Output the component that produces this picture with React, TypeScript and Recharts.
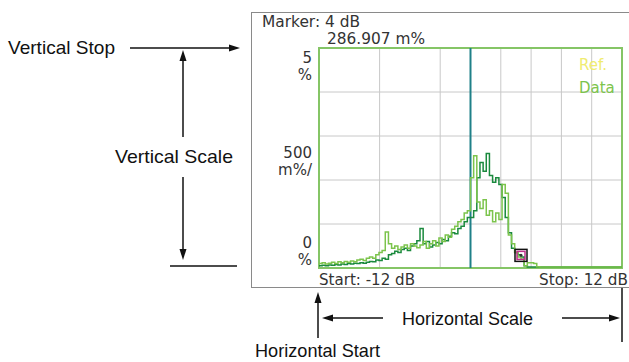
import { ComposedChart, Line, XAxis, YAxis, CartesianGrid, ReferenceLine, ReferenceArea, ReferenceDot } from 'recharts';

const dbSteps = [
    -12, -11.75, -11.5, -11.25, -11, -10.75, -10.5, -10.25, -10, -9.75, -9.5, -9.25,
    -9, -8.75, -8.5, -8.25, -8, -7.75, -7.5, -7.25, -7, -6.75, -6.5, -6.25,
    -6, -5.75, -5.5, -5.25, -5, -4.75, -4.5, -4.25, -4, -3.75, -3.5, -3.25,
    -3, -2.75, -2.5, -2.25, -2, -1.75, -1.5, -1.25, -1, -0.75, -0.5, -0.25,
    0, 0.25, 0.5, 0.75, 1, 1.25, 1.5, 1.75, 2, 2.25, 2.5, 2.75,
    3, 3.25, 3.5, 3.75, 4, 4.25, 4.5, 4.75, 5, 5.25, 5.5, 5.75,
    6, 6.25, 6.5, 6.75, 7, 7.25, 7.5, 7.75, 8, 8.25, 8.5, 8.75,
    9, 9.25, 9.5, 9.75, 10, 10.25, 10.5, 10.75, 11, 11.25, 11.5, 11.75, 12,
];

// dark green trace (%)
const darkTrace = [
    0.05, 0.06, 0.05, 0.07, 0.06, 0.08, 0.07, 0.09, 0.08, 0.1, 0.09, 0.11,
    0.1, 0.12, 0.11, 0.13, 0.15, 0.14, 0.18, 0.17, 0.22, 0.2, 0.3, 0.33,
    0.38, 0.35, 0.42, 0.45, 0.4, 0.5, 0.55, 0.62, 0.9, 0.55, 0.6, 0.48,
    0.52, 0.58, 0.55, 0.65, 0.62, 0.72, 0.8, 0.78, 0.9, 0.95, 1.05, 1.15,
    1.15, 1.3, 2.05, 2.4, 2.2, 2.6, 2.1, 1.95, 2.05, 1.9, 1.6, 1.15,
    0.8, 0.45, 0.35, 0.3, 0.25, 0.05, 0.02, 0.02, 0.02, 0.02, 0.02, 0.02,
    0.02, 0.02, 0.02, 0.02, 0.02, 0.02, 0.02, 0.02, 0.02, 0.02, 0.02, 0.02,
    0.02, 0.02, 0.02, 0.02, 0.02, 0.02, 0.02, 0.02, 0.02, 0.02, 0.02, 0.02, 0.02,
];

// light green trace (%)
const lightTrace = [
    0.1, 0.12, 0.09, 0.11, 0.13, 0.1, 0.14, 0.12, 0.15, 0.13, 0.16, 0.14,
    0.18, 0.2, 0.17, 0.22, 0.25, 0.22, 0.3, 0.35, 0.4, 0.82, 0.55, 0.45,
    0.5, 0.42, 0.48, 0.52, 0.45, 0.55, 0.5, 0.46, 0.52, 0.6, 0.45, 0.55,
    0.62, 0.5, 0.68, 0.6, 0.75, 0.7, 0.88, 0.95, 1.05, 1.1, 1.25, 1.3,
    2.05, 2.55, 1.5, 1.35, 1.55, 1.2, 1.3, 1.05, 1.25, 1.1, 1.9, 1.7,
    0.75, 0.55, 0.35, 0.25, 0.2, 0.05, 0.12, 0.12, 0.1, 0.03, 0.02, 0.02,
    0.02, 0.02, 0.02, 0.02, 0.02, 0.02, 0.02, 0.02, 0.02, 0.02, 0.02, 0.02,
    0.02, 0.02, 0.02, 0.02, 0.02, 0.02, 0.02, 0.02, 0.02, 0.02, 0.02, 0.02, 0.02,
];

const xTicks = [-12, -9.6, -7.2, -4.8, -2.4, 0, 2.4, 4.8, 7.2, 9.6, 12];
const yTicks = [0, 0.5, 1, 1.5, 2, 2.5, 3, 3.5, 4, 4.5, 5];

const markerDb = 4;
const markerValue = 0.287;
const refLineDb = 0;

const data = dbSteps.map((db, i) => ({ db, dark: darkTrace[i], light: lightTrace[i] }));

const instFont = '"DejaVu Sans", Verdana, sans-serif';
const noteFont = '"Liberation Sans Narrow", "Arial Narrow", "Liberation Sans", Arial, sans-serif';

const MarkerBox = (props: any) => {
    const { cx, cy } = props;
    return (
        <g>
            <rect x={cx - 6} y={cy - 6} width={12} height={12} fill="none" stroke="#111" strokeWidth={1.5} />
            <rect x={cx - 4} y={cy - 4} width={8} height={8} fill="none" stroke="#c0308a" strokeWidth={1.5} />
            <circle cx={cx} cy={cy} r={1.5} fill="#333" />
        </g>
    );
};

const Arrow = ({ x1, y1, x2, y2 }: { x1: number; y1: number; x2: number; y2: number }) => {
    const a = Math.atan2(y2 - y1, x2 - x1);
    const len = 11;
    const w = 3.5;
    const bx = x2 - len * Math.cos(a);
    const by = y2 - len * Math.sin(a);
    const px = -Math.sin(a) * w;
    const py = Math.cos(a) * w;
    return (
        <g>
            <line x1={x1} y1={y1} x2={bx} y2={by} stroke="#111" strokeWidth={1.5} />
            <polygon points={`${x2},${y2} ${bx + px},${by + py} ${bx - px},${by - py}`} fill="#111" />
        </g>
    );
};

export default function App() {
    return (
        <div style={{ position: 'relative', width: 629, height: 362 }}>
            <style>{'body { margin: 0; }'}</style>
            <svg width={629} height={362} style={{ position: 'absolute', left: 0, top: 0 }}>
                {/* instrument frame */}
                <rect x={251.5} y={12.5} width={400} height={275} fill="#fff" stroke="#8a8a8a" strokeWidth={1} />
            </svg>
            <div style={{ position: 'absolute', left: 0, top: 0 }}>
                <ComposedChart width={629} height={362} data={data} margin={{ top: 48, right: 7, bottom: 94, left: 319 }}>
                    <XAxis dataKey="db" type="number" domain={[-12, 12]} ticks={xTicks} hide />
                    <YAxis type="number" domain={[0, 5]} ticks={yTicks} hide />
                    <CartesianGrid stroke="#c8c8c8" strokeWidth={1} />
                    <ReferenceLine x={refLineDb} stroke="#1f8088" strokeWidth={2} />
                    <Line type="stepAfter" dataKey="dark" stroke="#1b8a3e" strokeWidth={1.5} dot={false} isAnimationActive={false} />
                    <Line type="stepAfter" dataKey="light" stroke="#7cc44c" strokeWidth={1.5} dot={false} isAnimationActive={false} />
                    <ReferenceArea x1={-12} x2={12} y1={0} y2={5} fill="none" stroke="#85c566" strokeWidth={2} />
                    <ReferenceDot x={markerDb} y={markerValue} shape={MarkerBox} />
                </ComposedChart>
            </div>
            <svg width={629} height={362} style={{ position: 'absolute', left: 0, top: 0, pointerEvents: 'none' }}>
                <g fontFamily={instFont} fontSize={15} fill="#333" lengthAdjust="spacingAndGlyphs">
                    <text x={262} y={27} textLength={98} lengthAdjust="spacingAndGlyphs">Marker: 4 dB</text>
                    <text x={327} y={44} textLength={98} lengthAdjust="spacingAndGlyphs">286.907 m%</text>
                    <text x={312} y={63} textAnchor="end">5</text>
                    <text x={312} y={80} textAnchor="end">%</text>
                    <text x={312} y={158} textAnchor="end">500</text>
                    <text x={312} y={175} textAnchor="end">m%/</text>
                    <text x={312} y={248} textAnchor="end">0</text>
                    <text x={312} y={265} textAnchor="end">%</text>
                    <text x={319} y={285} textLength={96} lengthAdjust="spacingAndGlyphs">Start: -12 dB</text>
                    <text x={539} y={285} textLength={89} lengthAdjust="spacingAndGlyphs">Stop: 12 dB</text>
                    <text x={579} y={70} fill="#f0ec70">Ref.</text>
                    <text x={579} y={93} fill="#7cc44c">Data</text>
                </g>
                <g fontFamily={noteFont} fontSize={19} fill="#111">
                    <text x={8} y={54} textLength={107} lengthAdjust="spacingAndGlyphs">Vertical Stop</text>
                    <text x={115} y={163} textLength={118} lengthAdjust="spacingAndGlyphs">Vertical Scale</text>
                    <text x={402} y={325} textLength={131} lengthAdjust="spacingAndGlyphs">Horizontal Scale</text>
                    <text x={255} y={357} textLength={125} lengthAdjust="spacingAndGlyphs">Horizontal Start</text>
                </g>
                <Arrow x1={130} y1={48} x2={240} y2={48} />
                <Arrow x1={183} y1={137} x2={183} y2={50} />
                <Arrow x1={183} y1={177} x2={183} y2={260} />
                <line x1={170} y1={266} x2={237} y2={266} stroke="#111" strokeWidth={1.5} />
                <Arrow x1={383} y1={318} x2={322} y2={318} />
                <Arrow x1={562} y1={318} x2={620} y2={318} />
                <line x1={622} y1={288} x2={622} y2={342} stroke="#111" strokeWidth={1.5} />
                <Arrow x1={318} y1={338} x2={318} y2={292} />
            </svg>
        </div>
    );
}
